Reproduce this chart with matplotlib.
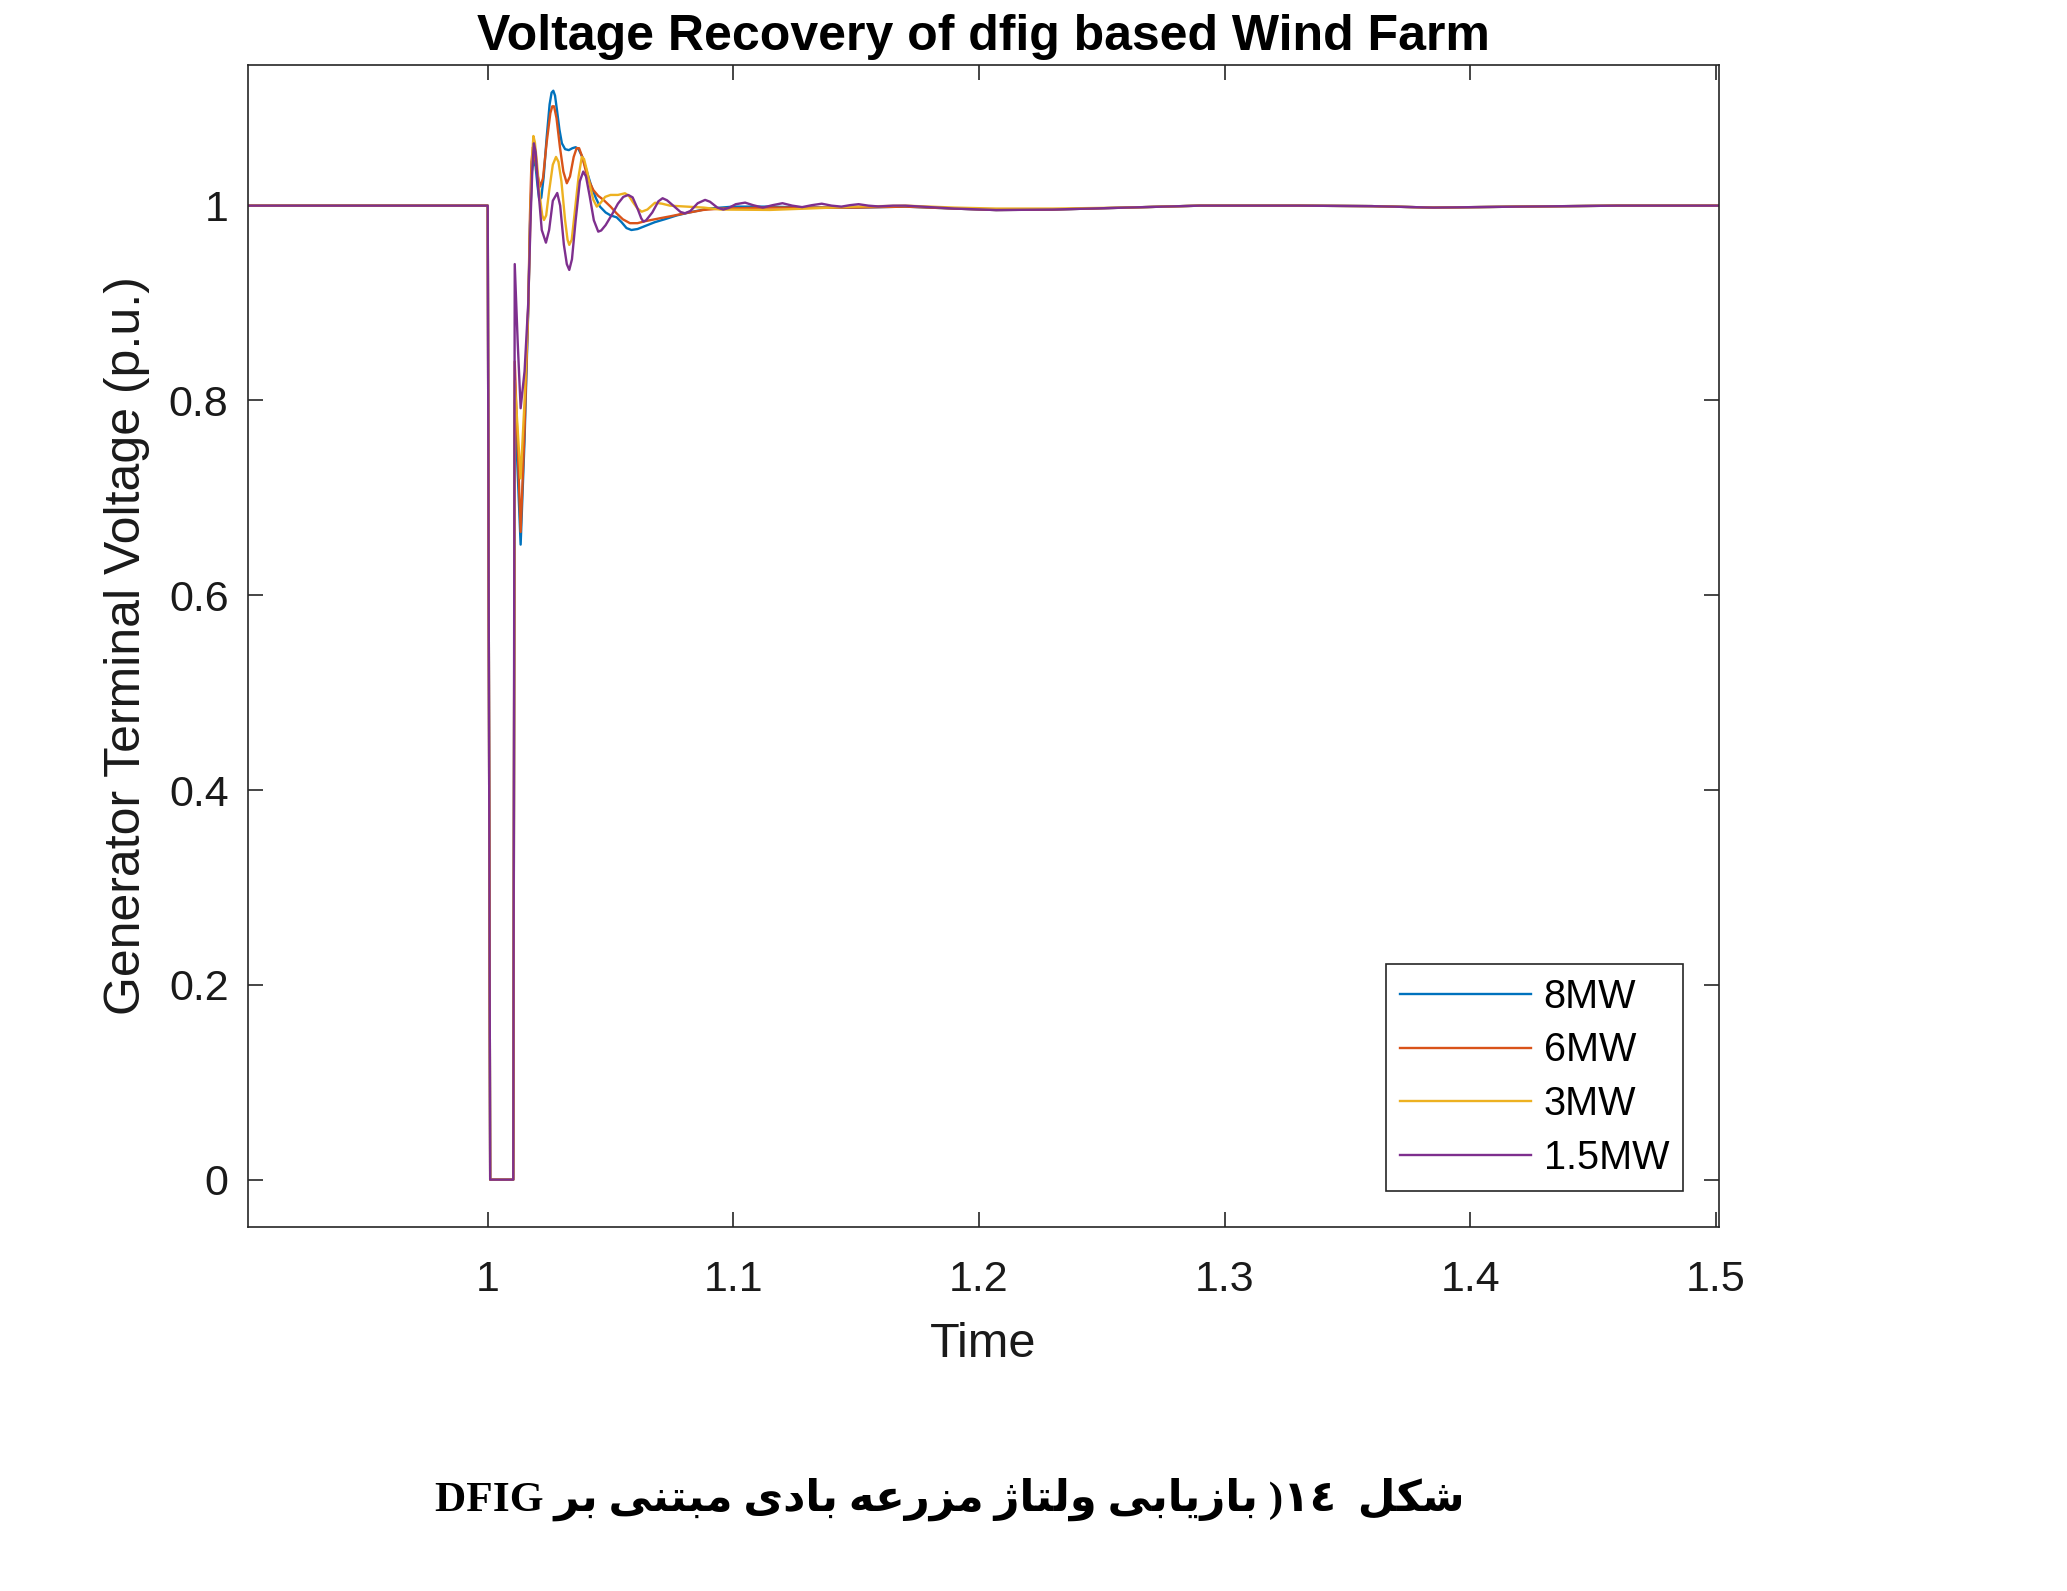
import matplotlib
matplotlib.use("Agg")
import matplotlib.pyplot as plt

plt.rcParams['font.family'] = ['Liberation Sans', 'DejaVu Sans']

# ---------------- data ----------------
t_late = [1.1700, 1.1900, 1.2070, 1.2300, 1.2600, 1.2900, 1.3300, 1.3600, 1.3850, 1.4200,
          1.4600, 1.5100]

t_8mw = [0.90, 1.000, 1.001, 1.0104, 1.0110, 1.0134, 1.0150, 1.0165, 1.0172, 1.0180, 1.0187,
         1.0195, 1.0203, 1.0210, 1.0218, 1.0228, 1.0240, 1.0252, 1.0260, 1.0267, 1.0274, 1.0282,
         1.0292, 1.0302, 1.0315, 1.0330, 1.0345, 1.0358, 1.0370, 1.0385, 1.0400, 1.0423, 1.0440,
         1.0457, 1.0480, 1.0500, 1.0525, 1.0545, 1.0565, 1.0585, 1.0610, 1.0640, 1.0680, 1.0720,
         1.0770, 1.0820, 1.0900, 1.1000, 1.1150, 1.1300, 1.1500] + t_late
v_8mw = [1.0, 1.0, 0.0, 0.0, 0.80, 0.652, 0.76, 0.893, 0.980, 1.035, 1.047,
         1.040, 1.020, 1.006, 1.008, 1.030, 1.070, 1.104, 1.116, 1.118, 1.113, 1.098,
         1.078, 1.064, 1.058, 1.057, 1.059, 1.060, 1.058, 1.050, 1.038, 1.019, 1.008,
         0.999, 0.993, 0.990, 0.988, 0.983, 0.977, 0.975, 0.976, 0.979, 0.983, 0.986,
         0.990, 0.993, 0.997, 0.999, 0.999, 0.998, 0.998,
         0.999, 0.997, 0.9955, 0.996, 0.998, 1.000, 1.000, 0.9995, 0.998, 0.999,
         1.000, 1.000]

t_6mw = [0.90, 1.000, 1.001, 1.0104, 1.0110, 1.0134, 1.0150, 1.0165, 1.0172, 1.0178, 1.0184,
         1.0190, 1.0200, 1.0213, 1.0225, 1.0240, 1.0255, 1.0263, 1.0270, 1.0280, 1.0294, 1.0308,
         1.0322, 1.0335, 1.0350, 1.0362, 1.0372, 1.0385, 1.0400, 1.0415, 1.0430, 1.0450, 1.0471,
         1.0500, 1.0525, 1.0550, 1.0579, 1.0610, 1.0640, 1.0700, 1.0742, 1.0800, 1.0878, 1.0950,
         1.1014, 1.1150, 1.1300, 1.1500] + t_late
v_6mw = [1.0, 1.0, 0.0, 0.0, 0.84, 0.665, 0.77, 0.897, 0.990, 1.045, 1.060,
         1.055, 1.035, 1.0195, 1.028, 1.065, 1.095, 1.102, 1.102, 1.090, 1.060, 1.035,
         1.023, 1.030, 1.050, 1.059, 1.059, 1.050, 1.035, 1.024, 1.016, 1.010, 1.006,
         0.999, 0.992, 0.986, 0.982, 0.982, 0.984, 0.987, 0.989, 0.992, 0.9956, 0.997,
         0.9973, 0.998, 0.998, 0.998,
         0.999, 0.997, 0.9955, 0.996, 0.998, 1.000, 1.000, 0.9995, 0.998, 0.999,
         1.000, 1.000]

t_3mw = [0.90, 1.000, 1.001, 1.0104, 1.0110, 1.0134, 1.0150, 1.0165, 1.0175, 1.0182, 1.0186,
         1.0192, 1.0200, 1.0212, 1.0222, 1.0229, 1.0238, 1.0250, 1.0265, 1.0278, 1.0288, 1.0300,
         1.0315, 1.0325, 1.0332, 1.0342, 1.0355, 1.0370, 1.0383, 1.0392, 1.0405, 1.0417, 1.0430,
         1.0444, 1.0460, 1.0478, 1.0500, 1.0530, 1.0559, 1.0575, 1.0590, 1.0610, 1.0627, 1.0650,
         1.0681, 1.0710, 1.0742, 1.0810, 1.0880, 1.0946, 1.1050, 1.1149, 1.1300, 1.1500] + t_late
v_3mw = [1.0, 1.0, 0.0, 0.0, 0.82, 0.72, 0.80, 0.895, 1.000, 1.055, 1.0715,
         1.065, 1.045, 1.010, 0.990, 0.9853, 0.990, 1.015, 1.042, 1.050, 1.045, 1.025,
         0.985, 0.965, 0.9597, 0.965, 0.995, 1.030, 1.050, 1.048, 1.035, 1.0195, 1.006,
         0.999, 1.003, 1.009, 1.011, 1.011, 1.0127, 1.010, 1.004, 0.997, 0.9938, 0.996,
         1.003, 1.002, 1.000, 0.999, 0.998, 0.996, 0.9958, 0.9956, 0.997, 0.999,
         1.000, 0.998, 0.997, 0.997, 0.998, 1.000, 1.000, 0.9995, 0.998, 0.999,
         1.000, 1.000]

t_15mw = [0.90, 1.000, 1.001, 1.0104, 1.0110, 1.0122, 1.0134, 1.0150, 1.0165, 1.0175, 1.0182,
          1.0188, 1.0195, 1.0205, 1.0220, 1.0237, 1.0250, 1.0265, 1.0283, 1.0295, 1.0310, 1.0322,
          1.0332, 1.0343, 1.0358, 1.0375, 1.0389, 1.0400, 1.0415, 1.0432, 1.0450, 1.0462, 1.0480,
          1.0505, 1.0530, 1.0552, 1.0572, 1.0590, 1.0610, 1.0625, 1.0634, 1.0645, 1.0670, 1.0695,
          1.0712, 1.0730, 1.0760, 1.0785, 1.0803, 1.0825, 1.0855, 1.0885, 1.0905, 1.0935, 1.0959,
          1.0980, 1.1010, 1.1048, 1.1080, 1.1120, 1.1160, 1.1200, 1.1240, 1.1280, 1.1320, 1.1360,
          1.1400, 1.1440, 1.1475, 1.1510, 1.1550, 1.1590, 1.1650] + t_late
v_15mw = [1.0, 1.0, 0.0, 0.0, 0.94, 0.86, 0.792, 0.83, 0.90, 0.99, 1.04,
          1.064, 1.055, 1.020, 0.975, 0.962, 0.975, 1.005, 1.013, 1.000, 0.960, 0.940,
          0.934, 0.945, 0.985, 1.025, 1.035, 1.030, 1.010, 0.985, 0.9733, 0.9745, 0.980,
          0.9905, 1.002, 1.009, 1.011, 1.0085, 0.997, 0.987, 0.9836, 0.985, 0.993, 1.0045,
          1.0076, 1.0055, 0.999, 0.9935, 0.9922, 0.9945, 1.0025, 1.0059, 1.004, 0.998, 0.996,
          0.9975, 1.0015, 1.0031, 1.0005, 0.998, 1.0005, 1.0025, 1.000, 0.9985, 1.0005, 1.002,
          1.000, 0.999, 1.0005, 1.0015, 1.000, 0.9992, 1.000,
          1.000, 0.997, 0.9955, 0.996, 0.998, 1.000, 1.000, 0.9995, 0.998, 0.999,
          1.000, 1.000]

series_labels = ['8MW', '6MW', '3MW', '1.5MW']
series_colors = ['#0072BD', '#D95319', '#EDB120', '#7E2F8E']

x_ticks = [1.0, 1.1, 1.2, 1.3, 1.4, 1.5]
x_tick_labels = ['1', '1.1', '1.2', '1.3', '1.4', '1.5']
y_ticks = [0.0, 0.2, 0.4, 0.6, 0.8, 1.0]
y_tick_labels = ['0', '0.2', '0.4', '0.6', '0.8', '1']

title_text = 'Voltage Recovery of dfig based Wind Farm'
x_label = 'Time'
y_label = 'Generator Terminal Voltage (p.u.)'
caption_words = ['شکل', '', '١٤)', 'بازیابی', 'ولتاژ', 'مزرعه', 'بادی', 'مبتنی', 'بر', 'DFIG']

# ---------------- simple Persian shaping (presentation forms) ----------------
AR_FORMS = {  # isolated, final, initial, medial
    'ا': ('\uFE8D', '\uFE8E', None, None),
    'ب': ('\uFE8F', '\uFE90', '\uFE91', '\uFE92'),
    'ت': ('\uFE95', '\uFE96', '\uFE97', '\uFE98'),
    'د': ('\uFEA9', '\uFEAA', None, None),
    'ر': ('\uFEAD', '\uFEAE', None, None),
    'ز': ('\uFEAF', '\uFEB0', None, None),
    'ژ': ('\u0698', '\uFB8B', None, None),
    'ش': ('\uFEB5', '\uFEB6', '\uFEB7', '\uFEB8'),
    'ع': ('\uFEC9', '\uFECA', '\uFECB', '\uFECC'),
    'ک': ('\u06A9', '\uFB8F', '\uFEDB', '\uFEDC'),
    'ل': ('\uFEDD', '\uFEDE', '\uFEDF', '\uFEE0'),
    'م': ('\uFEE1', '\uFEE2', '\uFEE3', '\uFEE4'),
    'ن': ('\uFEE5', '\uFEE6', '\uFEE7', '\uFEE8'),
    'و': ('\uFEED', '\uFEEE', None, None),
    'ه': ('\uFEE9', '\uFEEA', '\uFEEB', '\uFEEC'),
    'ی': ('\u06CC', '\uFEF0', '\uFEF3', '\uFEF4'),
}


def shape_word(w):
    out = []
    for i, ch in enumerate(w):
        if ch not in AR_FORMS:
            out.append(ch)
            continue
        iso, fin, ini, med = AR_FORMS[ch]
        prev_j = i > 0 and w[i - 1] in AR_FORMS and AR_FORMS[w[i - 1]][2] is not None
        next_j = i < len(w) - 1 and w[i + 1] in AR_FORMS and ini is not None
        if prev_j and next_j:
            out.append(med)
        elif prev_j:
            out.append(fin)
        elif next_j:
            out.append(ini)
        else:
            out.append(iso)
    return ''.join(out)


def visual_token(w):
    if any(c in AR_FORMS for c in w):
        return shape_word(w)[::-1]
    if w.endswith(')'):
        return ')' + w[:-1]
    return w


caption_visual = ' '.join(visual_token(w) for w in caption_words[::-1])

# ---------------- figure ----------------
W, H = 2067, 1591
fig = plt.figure(figsize=(W / 100, H / 100), dpi=100)
ax = fig.add_axes([248 / W, 1 - 1227 / H, (1719 - 248) / W, (1227 - 65) / H])

for t, v, c, lab in zip([t_8mw, t_6mw, t_3mw, t_15mw],
                        [v_8mw, v_6mw, v_3mw, v_15mw],
                        series_colors, series_labels):
    ax.plot(t, v, color=c, lw=1.7, label=lab, solid_joinstyle='round')

ax.set_xlim(0.9024, 1.5013)
ax.set_ylim(-0.0486, 1.1444)
ax.set_xticks(x_ticks)
ax.set_xticklabels(x_tick_labels)
ax.set_yticks(y_ticks)
ax.set_yticklabels(y_tick_labels)

axis_col = '#262626'
for s in ax.spines.values():
    s.set_color(axis_col)
    s.set_linewidth(1.2)
ax.tick_params(axis='both', which='major', direction='in', length=11, width=1.2,
               top=True, right=True, colors=axis_col, labelcolor='#1a1a1a', labelsize=31)
ax.tick_params(axis='x', pad=24)
ax.tick_params(axis='y', pad=14)

ax.set_title(title_text, fontsize=36, fontweight='bold', pad=11)
ax.set_xlabel(x_label, fontsize=35, color='#1a1a1a')
ax.set_ylabel(y_label, fontsize=36, color='#1a1a1a')
ax.xaxis.set_label_coords(0.5, -0.1015)
ax.xaxis.label.set_va('center')
ax.yaxis.set_label_coords(-0.0823, 0.5)
ax.yaxis.label.set_va('center')

leg = ax.legend(loc='lower right', bbox_to_anchor=(1683 / W, 1 - 1191 / H),
                bbox_transform=fig.transFigure, borderaxespad=0, fontsize=28.5,
                frameon=True, fancybox=False, shadow=False, framealpha=1,
                edgecolor='#262626', handlelength=3.3, handletextpad=0.33,
                labelspacing=0.4, borderpad=0.35)
leg.get_frame().set_linewidth(1.2)

fig.text(950 / W, 1 - 1511 / H, caption_visual, ha='center', va='baseline',
         fontsize=31.2, fontweight='bold', family=['Liberation Serif', 'DejaVu Sans'])

fig.savefig('out.png', dpi=100, facecolor='white')
